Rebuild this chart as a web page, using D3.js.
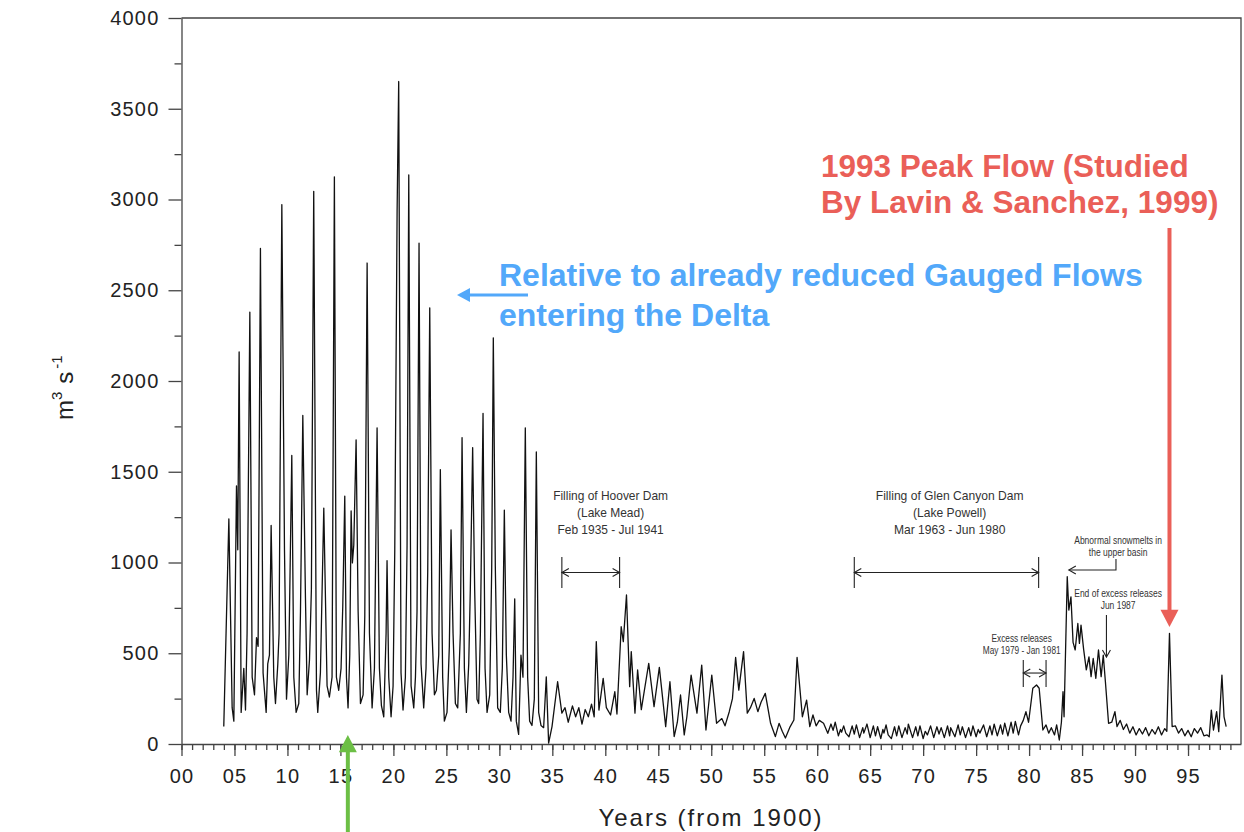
<!DOCTYPE html>
<html lang="en">
<head>
<meta charset="utf-8">
<title>Colorado River flow entering the Delta</title>
<script src="https://cdn.jsdelivr.net/npm/d3@7"></script>
<style>
body { margin: 0; background: #fff; }
.note { font-family: "Liberation Sans", Arial, Helvetica, sans-serif; fill: #333; }
.big { font-family: "Liberation Sans", Arial, Helvetica, sans-serif; font-weight: bold; }
</style>
</head>
<body>
<script>
// monthly flow (m3/s), [year from 1900, value]
var flowEarly = [[3.99,97],[4.47,1240],[4.78,200],[4.94,126],[5.19,1422],[5.31,1070],[5.44,2160],[5.63,174],[5.88,417],[6.04,187],[6.19,610],[6.45,2380],[6.67,368],[6.89,271],[7.08,586],[7.23,538],[7.45,2730],[7.70,392],[7.99,174],[8.14,441],[8.30,490],[8.46,1204],[8.71,368],[8.87,223],[9.09,441],[9.21,610],[9.47,2972],[9.72,1070],[9.91,247],[10.13,490],[10.41,1590],[10.60,368],[10.82,174],[11.07,223],[11.23,731],[11.45,1810],[11.70,804],[11.86,271],[12.08,465],[12.26,853],[12.48,3045],[12.74,296],[12.86,174],[13.11,392],[13.43,1300],[13.74,320],[13.96,259],[14.21,368],[14.43,3125],[14.62,368],[14.84,296],[15.06,417],[15.22,756],[15.41,1366],[15.57,368],[15.72,199],[15.88,490],[16.01,1284],[16.13,998],[16.26,1095],[16.48,1676],[16.67,731],[16.89,223],[17.14,271],[17.30,707],[17.52,2650],[17.74,610],[17.99,199],[18.21,417],[18.46,1742],[18.68,417],[18.87,211],[19.09,150],[19.31,610],[19.40,1010],[19.56,368],[19.78,150],[19.97,320],[20.13,1071],[20.35,2936],[20.50,3650],[20.72,392],[20.91,187],[21.13,368],[21.29,1095],[21.45,3135],[21.67,320],[21.92,199],[22.08,368],[22.23,731],[22.42,2759],[22.61,441],[22.86,199],[23.08,417],[23.24,950],[23.43,2403],[23.65,610],[23.87,271],[24.06,296],[24.28,490],[24.43,1512],[24.65,368],[24.81,126],[25.06,174],[25.28,538],[25.44,1180],[25.63,610],[25.85,223],[26.07,199],[26.32,610],[26.48,1688],[26.70,417],[26.89,174],[27.11,441],[27.26,853],[27.48,1633],[27.67,853],[27.89,247],[28.05,223],[28.21,610],[28.46,1822],[28.65,417],[28.84,174],[29.09,271],[29.28,974],[29.43,2238],[29.62,974],[29.84,199],[30.09,174],[30.28,417],[30.47,1289],[30.66,490],[30.88,174],[31.10,126],[31.29,368],[31.45,800],[31.60,126],[31.82,53],[32.04,490],[32.23,368],[32.45,1742],[32.67,368],[32.86,126],[33.08,102],[33.30,247],[33.49,1609],[33.71,174],[33.93,102],[34.18,90],[34.43,370]];

var flowMid = [[34.65,5],[34.97,96],[35.5,343],[35.9,170],[36.2,200],[36.5,120],[36.9,210],[37.2,150],[37.5,200],[37.8,110],[38.1,190],[38.4,150],[38.7,220],[38.95,150],[39.15,564],[39.4,187],[39.8,362],[40.1,200],[40.5,160],[40.9,288],[41.1,165],[41.5,646],[41.7,564],[42.0,821],[42.3,316],[42.45,509],[42.8,170],[43.05,408],[43.4,189],[43.7,300],[44.1,444],[44.6,206],[45.1,422],[45.7,96],[46.1,343],[46.5,41],[46.8,120],[47.1,270],[47.45,50],[47.7,150],[48.1,380],[48.65,170],[49.1,435],[49.5,77],[50.05,380],[50.5,114],[51.0,140],[51.3,100],[51.7,178],[52.0,250],[52.3,477],[52.6,297],[53.05,509],[53.4,170],[53.7,200],[54.05,251],[54.4,178],[54.7,230],[55.1,279],[55.6,114],[56.05,41],[56.4,114],[56.7,70],[57.0,33],[57.4,90],[57.8,132],[58.1,477],[58.35,316],[58.6,150],[59.0,242],[59.3,96],[59.6,160],[59.9,100],[60.2,130],[60.6,114],[61.0,59]];

var flowLate = [[61.3,110],[61.5,75],[61.7,120],[62.0,45],[62.2,80],[62.3,65],[62.5,100],[62.7,60],[63.0,40],[63.3,100],[63.5,55],[63.7,105],[64.0,35],[64.3,90],[64.4,60],[64.7,110],[65.0,35],[65.3,100],[65.5,45],[65.7,95],[66.0,30],[66.2,80],[66.3,60],[66.5,105],[66.7,50],[67.0,30],[67.3,95],[67.5,45],[67.7,100],[68.0,35],[68.3,90],[68.5,55],[68.6,110],[69.0,35],[69.3,95],[69.5,45],[69.7,100],[70.0,30],[70.2,70],[70.4,50],[70.7,100],[71.0,35],[71.3,95],[71.5,55],[71.7,90],[72.0,35],[72.3,100],[72.5,45],[72.6,90],[73.0,40],[73.3,105],[73.5,50],[73.7,95],[74.0,35],[74.3,90],[74.5,45],[74.7,100],[75.0,40],[75.2,80],[75.35,60],[75.7,105],[76.0,40],[76.3,100],[76.5,50],[76.7,110],[77.0,45],[77.3,105],[77.5,55],[77.7,115],[78.0,45],[78.3,120],[78.5,60],[78.7,125],[79.0,50],[79.2,100],[79.45,130],[79.7,178],[79.95,120],[80.35,307],[80.7,325],[80.95,307],[81.3,77],[81.6,105],[81.85,60],[82.1,90],[82.4,50],[82.6,105],[82.85,22],[83.05,120],[83.2,288],[83.3,150],[83.6,922],[83.75,738],[83.95,811],[84.15,560],[84.35,518],[84.6,664],[84.75,554],[84.9,655],[85.15,520],[85.4,408],[85.65,480],[85.85,371],[86.05,471],[86.3,362],[86.55,518],[86.8,371],[87.0,490],[87.2,344],[87.5,114],[87.8,120],[88.1,178],[88.3,96],[88.6,130],[88.9,80],[89.2,110],[89.5,60],[89.8,95],[90.1,50],[90.4,85],[90.7,55],[91.0,90],[91.3,45],[91.6,80],[91.9,55],[92.2,95],[92.5,50],[92.8,85],[93.0,70],[93.25,610],[93.5,96],[93.8,100],[94.1,60],[94.4,85],[94.7,45],[95.0,75],[95.3,40],[95.6,85],[95.9,60],[96.2,90],[96.5,45],[96.8,50],[97.0,40],[97.2,187],[97.4,77],[97.7,178],[97.9,68],[98.2,380],[98.4,150],[98.6,96]];

var yTicks = [0, 500, 1000, 1500, 2000, 2500, 3000, 3500, 4000];
var xTickYears = [0, 5, 10, 15, 20, 25, 30, 35, 40, 45, 50, 55, 60, 65, 70, 75, 80, 85, 90, 95];
var xTickLabels = ['00','05','10','15','20','25','30','35','40','45','50','55','60','65','70','75','80','85','90','95'];

// dam filling periods etc. (years from 1900)
var hooverSpan = [35.9, 41.35];
var glenSpan = [63.5, 80.9];
var excessSpan = [79.45, 81.6];

var W = 1244, H = 832;
var x = d3.scaleLinear().domain([0, 100]).range([181.5, 1241]);
var y = d3.scaleLinear().domain([0, 4000]).range([744, 18]);

var svg = d3.select('body').append('svg')
    .attr('width', W)
    .attr('height', H)
    .style('display', 'block');

var axisColor = '#444';

//frame (top + right)
svg.append('path')
    .attr('d', 'M' + x(0) + ',' + y(4000) + 'H' + x(100) + 'V' + y(0))
    .attr('fill', 'none')
    .attr('stroke', axisColor)
    .attr('stroke-width', 1.3);

//y axis
svg.append('g')
    .attr('transform', 'translate(' + x(0) + ',0)')
    .call(d3.axisLeft(y).tickValues(yTicks).tickFormat(d3.format('d'))
        .tickSize(13).tickPadding(9).tickSizeOuter(0));
svg.append('g')
    .attr('transform', 'translate(' + x(0) + ',0)')
    .call(d3.axisLeft(y).tickValues(d3.range(250, 4000, 500)).tickSize(7).tickFormat(''))
    .select('.domain').remove();

//x axis
svg.append('g')
    .attr('transform', 'translate(0,' + y(0) + ')')
    .call(d3.axisBottom(x).tickValues(xTickYears)
        .tickFormat(function(d, i) { return xTickLabels[i]; })
        .tickSize(12).tickPadding(13).tickSizeOuter(0));
svg.append('g')
    .attr('transform', 'translate(0,' + y(0) + ')')
    .call(d3.axisBottom(x).tickValues(d3.range(0, 100)).tickSize(6).tickFormat(''))
    .select('.domain').remove();

svg.selectAll('.domain, .tick line')
    .attr('stroke', axisColor)
    .attr('stroke-width', 1.3);
svg.selectAll('.tick text')
    .attr('fill', '#222')
    .style('font-family', '"Liberation Sans", Arial, Helvetica, sans-serif')
    .style('font-size', '20px')
    .style('letter-spacing', '1.2px');

//axis titles
svg.append('text')
    .attr('x', 711)
    .attr('y', 826)
    .attr('text-anchor', 'middle')
    .attr('fill', '#222')
    .style('font-family', '"Liberation Sans", Arial, sans-serif')
    .style('font-size', '24px')
    .style('letter-spacing', '2px')
    .text('Years (from 1900)');

var yl = svg.append('text')
    .attr('transform', 'translate(73,420) rotate(-90)')
    .attr('fill', '#222')
    .style('font-family', '"Liberation Sans", Arial, sans-serif')
    .style('font-size', '24px');
yl.append('tspan').text('m');
yl.append('tspan').attr('dy', -11).style('font-size', '15px').text('3');
yl.append('tspan').attr('dy', 11).attr('dx', 8).text('s');
yl.append('tspan').attr('dy', -11).attr('dx', 3).style('font-size', '15px').text('-1');

//flow line
var flow = flowEarly.concat(flowMid, flowLate);
var line = d3.line()
    .x(function(d) { return x(d[0]); })
    .y(function(d) { return y(d[1]); });

svg.append('path')
    .datum(flow)
    .attr('fill', 'none')
    .attr('stroke', '#111')
    .attr('stroke-width', 1.3)
    .attr('stroke-linejoin', 'round')
    .attr('d', line);

//small black notes, squeezed to look like a narrow face
function note(lines, yr, val, size, lh, sx) {
    var t = svg.append('text')
        .attr('class', 'note')
        .attr('text-anchor', 'middle')
        .attr('transform', 'translate(' + x(yr) + ',' + y(val) + ') scale(' + sx + ',1)')
        .style('font-size', size + 'px');
    lines.forEach(function(s, i) {
        t.append('tspan').attr('x', 0).attr('y', i * lh).text(s);
    });
}

function span(s, top, bottom, mid) {
    var g = svg.append('g').attr('fill', 'none').attr('stroke', '#222').attr('stroke-width', 1.1);
    var x0 = x(s[0]), x1 = x(s[1]), ym = y(mid);
    g.append('path').attr('d', 'M' + x0 + ',' + y(top) + 'V' + y(bottom) + 'M' + x1 + ',' + y(top) + 'V' + y(bottom));
    g.append('path').attr('d', 'M' + x0 + ',' + ym + 'H' + x1);
    g.append('path').attr('d', 'M' + (x0 + 7) + ',' + (ym - 4) + 'L' + x0 + ',' + ym + 'L' + (x0 + 7) + ',' + (ym + 4));
    g.append('path').attr('d', 'M' + (x1 - 7) + ',' + (ym - 4) + 'L' + x1 + ',' + ym + 'L' + (x1 - 7) + ',' + (ym + 4));
}

note(['Filling of Hoover Dam', '(Lake Mead)', 'Feb 1935 - Jul 1941'], 40.5, 1344, 13, 17, 0.92);
note(['Filling of Glen Canyon Dam', '(Lake Powell)', 'Mar 1963 - Jun 1980'], 72.5, 1344, 13, 17, 0.93);
note(['Excess releases', 'May 1979 - Jan 1981'], 79.3, 562, 10, 12, 0.83);
note(['Abnormal snowmelts in', 'the upper basin'], 88.4, 1102, 10, 12, 0.85);
note(['End of excess releases', 'Jun 1987'], 88.4, 810, 10, 12, 0.85);

span(hooverSpan, 1030, 860, 945);
span(glenSpan, 1030, 860, 945);
span(excessSpan, 463, 314, 391);

var ga = svg.append('g').attr('fill', 'none').attr('stroke', '#222').attr('stroke-width', 1.1);
ga.append('path').attr('d', 'M' + x(88.2) + ',' + y(1019) + 'V' + y(959) + 'H' + x(83.75));
ga.append('path').attr('d', 'M' + (x(83.75) + 7) + ',' + (y(959) - 4) + 'L' + x(83.75) + ',' + y(959) + 'L' + (x(83.75) + 7) + ',' + (y(959) + 4));
ga.append('path').attr('d', 'M' + x(87.3) + ',' + y(711) + 'V' + y(479));
ga.append('path').attr('d', 'M' + (x(87.3) - 4) + ',' + (y(479) - 7) + 'L' + x(87.3) + ',' + y(479) + 'L' + (x(87.3) + 4) + ',' + (y(479) - 7));

//coloured call-outs
var red = '#ea5f58', blue = '#52a8fa', green = '#6cbf45';

svg.append('text').attr('class', 'big').attr('fill', red)
    .attr('x', 821).attr('y', 177).style('font-size', '31.5px').text('1993 Peak Flow (Studied');
svg.append('text').attr('class', 'big').attr('fill', red)
    .attr('x', 821).attr('y', 213).style('font-size', '31.5px').text('By Lavin & Sanchez, 1999)');

svg.append('line')
    .attr('x1', x(93.25)).attr('x2', x(93.25))
    .attr('y1', y(2843)).attr('y2', y(720))
    .attr('stroke', red).attr('stroke-width', 4);
svg.append('path')
    .attr('d', 'M' + (x(93.25) - 9) + ',' + y(740) + 'L' + (x(93.25) + 9) + ',' + y(740) + 'L' + x(93.25) + ',' + y(645) + 'Z')
    .attr('fill', red);

svg.append('text').attr('class', 'big').attr('fill', blue)
    .attr('x', 499).attr('y', 286).style('font-size', '32px').text('Relative to already reduced Gauged Flows');
svg.append('text').attr('class', 'big').attr('fill', blue)
    .attr('x', 499).attr('y', 326).style('font-size', '32px').text('entering the Delta');

svg.append('line')
    .attr('x1', 528).attr('x2', 468)
    .attr('y1', 295).attr('y2', 295)
    .attr('stroke', blue).attr('stroke-width', 3);
svg.append('path')
    .attr('d', 'M470,288L470,302L457,295Z')
    .attr('fill', blue);

svg.append('line')
    .attr('x1', x(15.7)).attr('x2', x(15.7))
    .attr('y1', H).attr('y2', y(-40))
    .attr('stroke', green).attr('stroke-width', 4);
svg.append('path')
    .attr('d', 'M' + (x(15.7) - 9) + ',' + y(-45) + 'L' + (x(15.7) + 9) + ',' + y(-45) + 'L' + x(15.7) + ',' + y(50) + 'Z')
    .attr('fill', green);
</script>
</body>
</html>
